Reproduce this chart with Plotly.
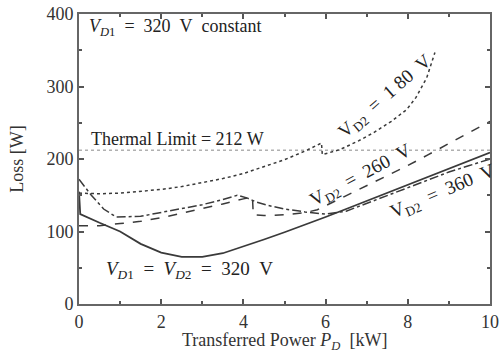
import plotly.graph_objects as go

# Data
p_equal = [0, 0.03, 0.5, 1.0, 1.5, 2.0, 2.5, 3.0, 3.5, 4.0, 4.5, 5.0, 5.5, 6.0, 6.5, 7.0, 7.5, 8.0, 8.5, 9.0, 9.5, 10.0]
loss_equal = [155, 124, 112, 100, 83, 71, 65, 65, 70, 79, 89, 99, 109, 120, 131, 142, 153, 164, 176, 187, 198, 209]

p_180 = [0, 0.5, 1, 1.5, 2, 2.5, 3, 3.5, 4, 4.5, 5, 5.5, 5.9, 5.92, 6.35, 6.8, 7.16, 7.6, 7.97, 8.2, 8.46, 8.66]
loss_180 = [153, 152, 153, 155, 158, 162, 167, 173, 180, 189, 199, 211, 222, 206, 213, 225, 236, 252, 268, 285, 312, 347]

p_260 = [0, 0.5, 1, 1.5, 2, 2.5, 3, 3.5, 4, 4.22, 4.24, 4.5, 5, 5.5, 5.8, 6.2, 6.6, 7, 7.5, 8, 8.5, 9, 9.5, 10]
loss_260 = [108, 108, 111, 114, 119, 125, 131, 138, 145, 148, 123, 122, 123, 126, 130, 141, 152, 163, 177, 191, 206, 221, 237, 252]

p_360 = [0, 0.3, 0.6, 0.9, 1.5, 2, 2.5, 3, 3.5, 3.85, 4.1, 4.3, 4.6, 5, 5.5, 6, 6.5, 7, 7.5, 8, 8.5, 9, 9.5, 10]
loss_360 = [172, 150, 131, 120, 121, 126, 131, 137, 144, 150, 146, 141, 136, 131, 127, 124, 128, 139, 150, 161, 172, 182, 191, 200]

thermal_limit = 212
x_ticks = [0, 2, 4, 6, 8, 10]
y_ticks = [0, 100, 200, 300, 400]

FONT = "Liberation Serif"
LINE = "#3a3a3a"
SP = "\u2002"  # wide space as in the reference labels

fig = go.Figure()
fig.add_trace(go.Scatter(x=[0, 10], y=[thermal_limit, thermal_limit], mode="lines",
                         line=dict(color="#b0b0b0", width=1.5, dash="dot"), showlegend=False))
fig.add_trace(go.Scatter(x=p_180, y=loss_180, mode="lines",
                         line=dict(color=LINE, width=1.5, dash="dot"), showlegend=False))
fig.add_trace(go.Scatter(x=p_260, y=loss_260, mode="lines",
                         line=dict(color=LINE, width=1.5, dash="dash"), showlegend=False))
fig.add_trace(go.Scatter(x=p_360, y=loss_360, mode="lines",
                         line=dict(color=LINE, width=1.5, dash="dashdot"), showlegend=False))
fig.add_trace(go.Scatter(x=p_equal, y=loss_equal, mode="lines",
                         line=dict(color=LINE, width=1.8), showlegend=False))

V = lambda s: "<i>V</i><sub><i>D</i>%s</sub>" % s
EQ = SP + "=" + SP

ann = [
    dict(x=0.2, y=381, text=V("1") + EQ + "320" + SP + "V" + SP + "constant", xanchor="left", textangle=0, size=18),
    dict(x=0.25, y=227, text="Thermal Limit = 212 W", xanchor="left", textangle=0, size=18),
    dict(x=7.45, y=286, text="V<sub>D2</sub>" + EQ + "1 80" + SP + "V", xanchor="center", textangle=-41, size=19),
    dict(x=6.85, y=177, text="V<sub>D2</sub>" + EQ + "260" + SP + "V", xanchor="center", textangle=-28, size=19),
    dict(x=8.85, y=155, text="V<sub>D2</sub>" + EQ + "360" + SP + "V", xanchor="center", textangle=-23, size=19),
    dict(x=2.7, y=47, text=V("1") + EQ + V("2") + EQ + "320" + SP + "V", xanchor="center", textangle=0, size=19),
]
for a in ann:
    fig.add_annotation(x=a["x"], y=a["y"], xref="x", yref="y", text=a["text"], showarrow=False,
                       xanchor=a["xanchor"], yanchor="middle", textangle=a["textangle"],
                       font=dict(family=FONT, size=a["size"], color="#222222"))

# x-axis title placed below the tick labels
fig.add_annotation(x=0.5, y=-0.13, xref="paper", yref="paper",
                   text="Transferred Power <i>P<sub>D</sub></i>" + SP + "[kW]", showarrow=False,
                   xanchor="center", yanchor="middle",
                   font=dict(family=FONT, size=18, color="#333333"))

axis_common = dict(showgrid=False, zeroline=False, showline=True, linecolor="#666666", linewidth=2,
                   mirror="allticks", ticks="inside", ticklen=5, tickwidth=1.5, tickcolor="#555555",
                   automargin=False,
                   tickfont=dict(family=FONT, size=18, color="#333333"))

fig.update_xaxes(range=[0, 10], tickvals=x_ticks, ticktext=[str(v) for v in x_ticks],
                 minor=dict(dtick=1, tick0=0, ticks="inside", ticklen=3, tickcolor="#555555"),
                 **axis_common)
fig.update_yaxes(range=[0, 400], tickvals=y_ticks, ticktext=[str(v) for v in y_ticks],
                 minor=dict(dtick=50, tick0=0, ticks="inside", ticklen=3, tickcolor="#555555"),
                 title=dict(text="Loss [W]", standoff=18,
                            font=dict(family=FONT, size=18, color="#333333")),
                 **axis_common)

fig.update_layout(width=500, height=352, margin=dict(l=79, r=10, t=14, b=48),
                  paper_bgcolor="white", plot_bgcolor="white", showlegend=False,
                  font=dict(family=FONT))

fig.write_html("out.html")
